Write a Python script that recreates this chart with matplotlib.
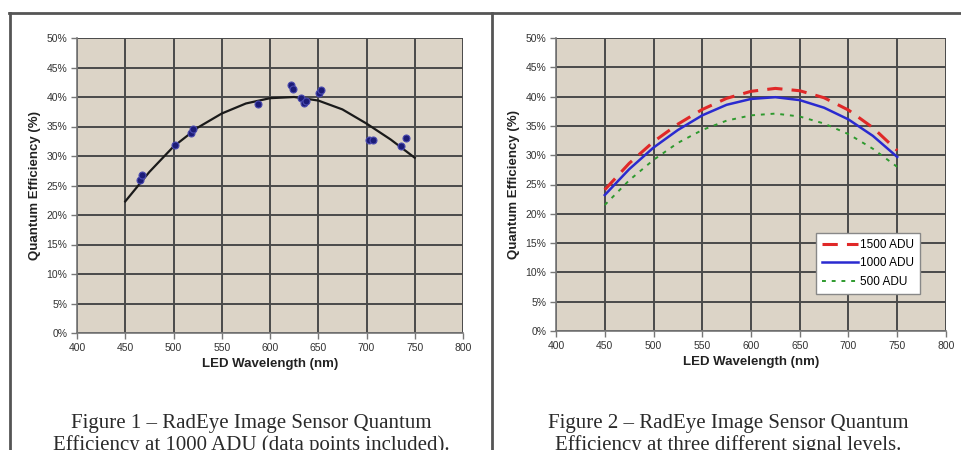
import matplotlib
matplotlib.use("Agg")
import matplotlib.pyplot as plt
from matplotlib.lines import Line2D
from matplotlib.ticker import FuncFormatter, MultipleLocator

# ---------------- data ----------------
wl_curve = [450, 475, 500, 525, 550, 575, 600, 625, 650, 675, 700, 725, 750]
fig1_fit = [22.3, 27.3, 31.6, 34.8, 37.2, 38.9, 39.8, 40.0, 39.4, 37.9, 35.5, 32.8, 29.7]
pts_wl = [465, 467, 502, 518, 520, 588, 622, 624, 632, 635, 637, 651, 653, 703, 707, 736, 741]
pts_qe = [26.0, 26.8, 31.9, 33.9, 34.6, 38.8, 42.0, 41.3, 39.8, 39.0, 39.3, 40.7, 41.2, 32.7, 32.7, 31.7, 33.0]

adu_1500 = [24.1, 28.6, 32.3, 35.3, 37.8, 39.7, 40.9, 41.4, 41.0, 39.8, 37.7, 34.7, 30.8]
adu_1000 = [23.2, 27.6, 31.3, 34.3, 36.8, 38.6, 39.6, 39.9, 39.4, 38.1, 36.1, 33.3, 29.7]
adu_500 = [21.5, 25.7, 29.2, 32.1, 34.3, 35.9, 36.8, 37.1, 36.6, 35.4, 33.6, 31.1, 28.0]
legend_labels = ["1500 ADU", "1000 ADU", "500 ADU"]

caption1 = ["Figure 1 \u2013 RadEye Image Sensor Quantum",
            "Efficiency at 1000 ADU (data points included)."]
caption2 = ["Figure 2 \u2013 RadEye Image Sensor Quantum",
            "Efficiency at three different signal levels."]

# ---------------- figure ----------------
W, H = 962, 450
fig = plt.figure(figsize=(W / 100, H / 100), dpi=100)
fig.patch.set_facecolor("white")

BG = "#dcd4c7"
GRID = "#4a4a4a"
TICKC = "#333333"


def style_axes(ax):
    ax.set_facecolor(BG)
    ax.set_xlim(400, 800)
    ax.set_ylim(0, 50)
    ax.xaxis.set_major_locator(MultipleLocator(50))
    ax.yaxis.set_major_locator(MultipleLocator(5))
    ax.yaxis.set_major_formatter(FuncFormatter(lambda v, p: f"{int(round(v))}%"))
    ax.grid(True, color=GRID, linewidth=1.4)
    ax.set_axisbelow(True)
    for s in ["top", "right"]:
        ax.spines[s].set_visible(False)
    for s in ["left", "bottom"]:
        ax.spines[s].set_color("#777777")
        ax.spines[s].set_linewidth(1.2)
    ax.tick_params(axis="both", direction="out", length=4, width=1, color="#777777",
                   labelsize=7.5, labelcolor=TICKC, pad=3)
    for lab in ax.get_xticklabels() + ax.get_yticklabels():
        lab.set_fontfamily("Liberation Sans")
    ax.set_xlabel("LED Wavelength (nm)", fontsize=9.5, fontweight="bold",
                  family="Liberation Sans", color="#222222", labelpad=4)
    ax.set_ylabel("Quantum Efficiency (%)", fontsize=9.5, fontweight="bold",
                  family="Liberation Sans", color="#222222", labelpad=4)


ax1 = fig.add_axes([77 / W, 1 - 333 / H, 386 / W, 295 / H])
style_axes(ax1)
ax1.plot(wl_curve, fig1_fit, color="#1a1a1a", linewidth=1.6, zorder=3)
ax1.plot(pts_wl, pts_qe, linestyle="none", marker="o", markersize=5,
         color="#1c1c78", markeredgecolor="#4a4ab0", markeredgewidth=0.8, zorder=4)

ax2 = fig.add_axes([556 / W, 1 - 331 / H, 390 / W, 293 / H])
style_axes(ax2)
l1, = ax2.plot(wl_curve, adu_1500, color="#e02828", linewidth=2.2,
               linestyle=(0, (5, 3)), zorder=3)
l2, = ax2.plot(wl_curve, adu_1000, color="#2a2ad0", linewidth=1.8, zorder=3)
l3, = ax2.plot(wl_curve, adu_500, color="#2e9a2e", linewidth=1.4,
               linestyle=(0, (2, 3)), zorder=3)
leg = ax2.legend([l1, l2, l3], legend_labels, loc="upper right",
                 bbox_to_anchor=(0.948, 0.355), frameon=True,
                 fancybox=False, edgecolor="#888888", facecolor="white",
                 framealpha=1, handlelength=3.0, handletextpad=0.2,
                 borderpad=0.5, labelspacing=0.55,
                 prop={"family": "Liberation Sans", "size": 8.5})
leg.get_frame().set_linewidth(1.0)

# frame lines
fig.add_artist(Line2D([9 / W, 1.0], [1 - 13 / H, 1 - 13 / H], color="#555555",
                      linewidth=2.0, transform=fig.transFigure))
fig.add_artist(Line2D([10 / W, 10 / W], [0, 1 - 13 / H], color="#555555",
                      linewidth=2.0, transform=fig.transFigure))
fig.add_artist(Line2D([492 / W, 492 / W], [0, 1 - 13 / H], color="#555555",
                      linewidth=2.0, transform=fig.transFigure))

# captions
for cx, cap in [(251, caption1), (728, caption2)]:
    fig.text(cx / W, 1 - 428 / H, cap[0], ha="center", va="baseline",
             fontsize=15, family="Liberation Serif", color="#2a2a2a")
    fig.text(cx / W, 1 - 450 / H, cap[1], ha="center", va="baseline",
             fontsize=15, family="Liberation Serif", color="#2a2a2a")

fig.savefig("out.png", dpi=100, facecolor="white")
